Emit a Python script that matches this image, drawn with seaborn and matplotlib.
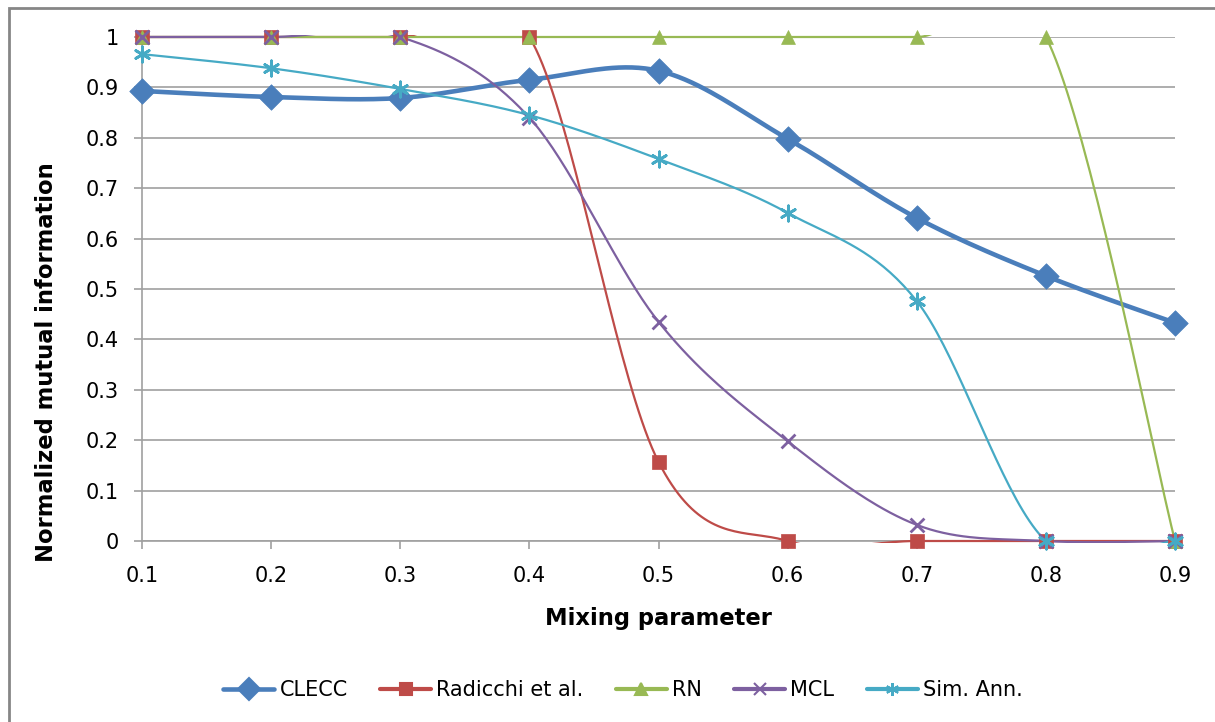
import numpy as np
import pandas as pd
import matplotlib
matplotlib.use("Agg")
import matplotlib.pyplot as plt
from matplotlib.lines import Line2D
from matplotlib.patches import Rectangle
import seaborn as sns

mixing = [0.1, 0.2, 0.3, 0.4, 0.5, 0.6, 0.7, 0.8, 0.9]
clecc = [0.893, 0.881, 0.879, 0.915, 0.933, 0.798, 0.641, 0.526, 0.433]
radicchi = [1.0, 1.0, 1.0, 1.0, 0.157, 0.0, 0.0, 0.0, 0.0]
rn = [1.0, 1.0, 1.0, 1.0, 1.0, 1.0, 1.0, 1.0, 0.0]
mcl = [1.0, 1.0, 1.0, 0.84, 0.435, 0.198, 0.032, 0.0, 0.0]
sim_ann = [0.966, 0.938, 0.897, 0.845, 0.758, 0.651, 0.476, 0.0, 0.0]

series_names = ["CLECC", "Radicchi et al.", "RN", "MCL", "Sim. Ann."]
series_vals = [clecc, radicchi, rn, mcl, sim_ann]
colors = ["#4A7EBB", "#BE4B48", "#98B954", "#7D60A0", "#46AAC5"]
markers = ["D", "s", "^", "x", (6, 2, 0)]
lws = [3.3, 1.6, 1.6, 1.6, 1.6]
msizes = [13, 9.5, 10, 10, 11]

sns.set_theme(style="white")
plt.rcParams["font.family"] = ["DejaVu Sans"]
plt.rcParams["text.color"] = "black"
plt.rcParams["axes.labelcolor"] = "black"
plt.rcParams["xtick.color"] = "black"
plt.rcParams["ytick.color"] = "black"

fig = plt.figure(figsize=(12.15, 7.22), dpi=100)
ax = fig.add_axes([142 / 1215, 1 - 541 / 722, (1175 - 142) / 1215, (541 - 37) / 722])

# figure border
fig.patches.append(Rectangle((9 / 1215, -0.1), 1.2, 1 - 8 / 722 + 0.1,
                             transform=fig.transFigure, fill=False,
                             edgecolor="#868686", lw=2, zorder=-1))


def smooth(xs, ys, n=40):
    # Excel-style smoothed line (cubic Bezier with Catmull-Rom control points)
    xs = np.asarray(xs, float)
    ys = np.asarray(ys, float)
    P = np.column_stack([xs, ys])
    out = []
    for i in range(len(P) - 1):
        p0 = P[i - 1] if i > 0 else P[i]
        p1 = P[i]
        p2 = P[i + 1]
        p3 = P[i + 2] if i + 2 < len(P) else P[i + 1]
        c1 = p1 + (p2 - p0) / 6
        c2 = p2 - (p3 - p1) / 6
        t = np.linspace(0, 1, n)[:, None]
        seg = ((1 - t) ** 3) * p1 + 3 * ((1 - t) ** 2) * t * c1 + 3 * (1 - t) * t ** 2 * c2 + t ** 3 * p2
        out.append(seg if i == 0 else seg[1:])
    out = np.vstack(out)
    return out[:, 0], out[:, 1]


rows = []
for name, vals in zip(series_names, series_vals):
    for x, v in zip(mixing, vals):
        rows.append({"mix": x, "nmi": v, "series": name})
df = pd.DataFrame(rows)

clip_rect = Rectangle((-0.01, -0.0045), 1.02, 1.009, transform=ax.transAxes,
                      fill=False, visible=False)
ax.add_patch(clip_rect)
for i, (name, vals) in enumerate(zip(series_names, series_vals)):
    sx, sy = smooth(mixing, vals)
    ln, = ax.plot(sx, sy, color=colors[i], lw=lws[i], zorder=3 + i, solid_capstyle="round")
    ln.set_clip_path(clip_rect)

for i, name in enumerate(series_names):
    sub = df[df["series"] == name]
    m = markers[i]
    if m == "x" or isinstance(m, tuple):
        sns.scatterplot(data=sub, x="mix", y="nmi", ax=ax, marker=m, s=msizes[i] ** 2,
                        color=colors[i], linewidth=2, zorder=10 + i, legend=False,
                        clip_on=False)
    else:
        sns.scatterplot(data=sub, x="mix", y="nmi", ax=ax, marker=m, s=msizes[i] ** 2,
                        color=colors[i], edgecolor=colors[i], linewidth=0.5, zorder=10 + i,
                        legend=False, clip_on=False)

ax.set_xlim(0.1, 0.9)
ax.set_ylim(0, 1)
ax.set_xticks(mixing)
ax.set_xticklabels([f"{v:.1f}" for v in mixing])
yt = [round(0.1 * k, 1) for k in range(11)]
ax.set_yticks(yt)
ax.set_yticklabels(["0"] + [f"{v:.1f}" for v in yt[1:-1]] + ["1"])
ax.yaxis.grid(True, color="#A0A0A0", lw=1.2)
ax.set_axisbelow(True)
for s in ["top", "right"]:
    ax.spines[s].set_visible(False)
for s in ["left", "bottom"]:
    ax.spines[s].set_color("#A0A0A0")
    ax.spines[s].set_linewidth(1.2)
ax.tick_params(axis="both", which="both", direction="out", length=5.8, width=1.2,
               color="#A0A0A0", labelsize=15, labelcolor="#000000",
               left=True, bottom=True)
ax.tick_params(axis="x", pad=12)
ax.tick_params(axis="y", pad=10.8)
ax.set_xlabel("Mixing parameter", fontsize=16.3, fontweight="bold", labelpad=15)
ax.set_ylabel("Normalized mutual information", fontsize=16.3, fontweight="bold",
              labelpad=20, y=(541 - 362) / 504)

handles = []
for i, name in enumerate(series_names):
    m = markers[i]
    handles.append(Line2D([0], [0], color=colors[i], lw=lws[i] if i == 0 else 3, marker=m,
                          markersize=msizes[i] * 0.85, markeredgewidth=1.5,
                          markerfacecolor=colors[i], markeredgecolor=colors[i], label=name))
fig.legend(handles=handles, loc="center", bbox_to_anchor=(623 / 1215, 1 - 690 / 722),
           ncol=5, frameon=False, fontsize=15, handlelength=2.45, columnspacing=1.55,
           handletextpad=0.25)

fig.savefig("out.png", dpi=100)
